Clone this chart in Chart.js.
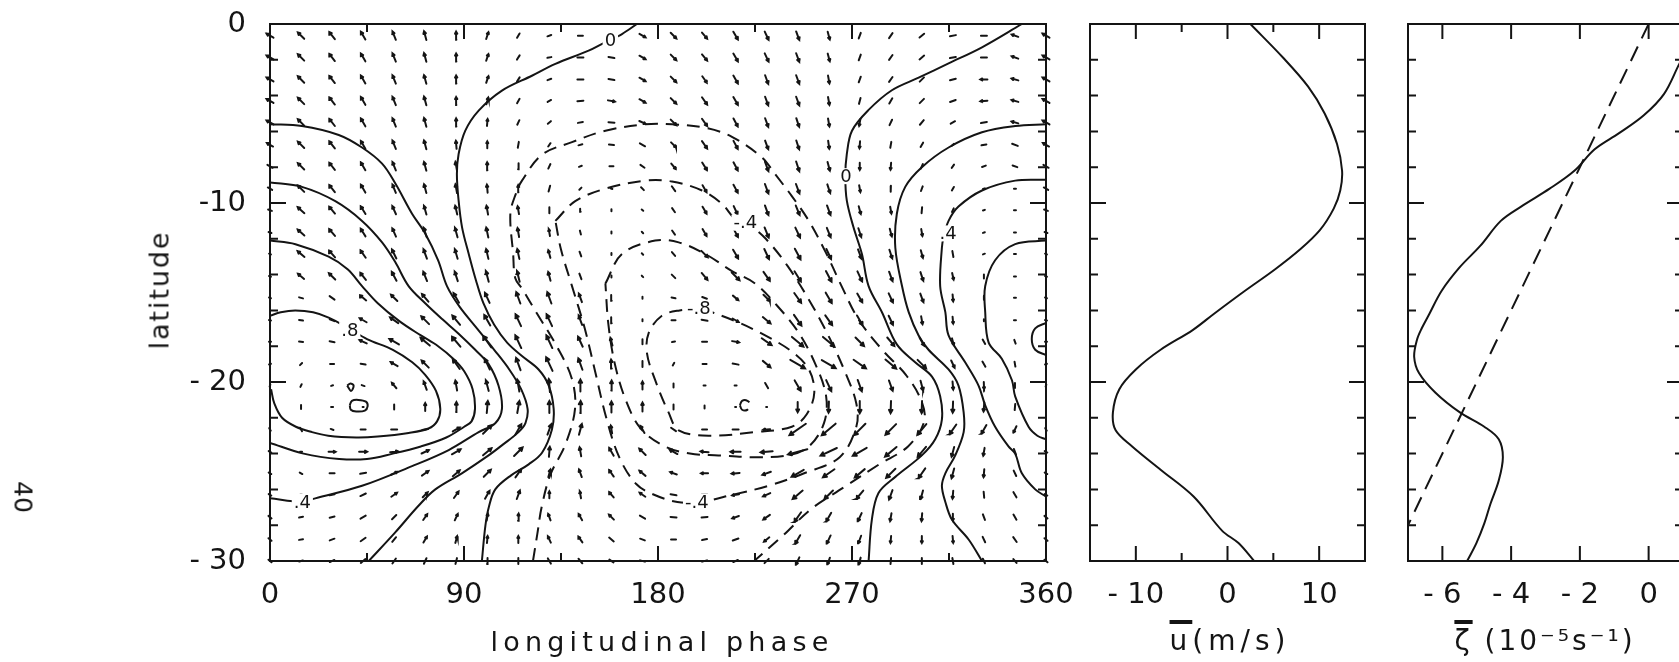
<!DOCTYPE html>
<html>
<head>
<meta charset="utf-8">
<script src="https://cdn.jsdelivr.net/npm/chart.js@4.4.1/dist/chart.umd.min.js"></script>
<style>
  html, body { margin: 0; padding: 0; background: #fff; overflow: hidden; width: 1679px; height: 662px; }
  canvas { position: absolute; top: 0; }
  #cMain { left: 0; }
  #cU { left: 1085px; }
  #cZ { left: 1385px; }
  .lbl { position: absolute; font-family: 'DejaVu Sans', sans-serif; color: #141414; white-space: nowrap;
         line-height: 1; transform: translate(-50%, -50%); }
  .ov { text-decoration: overline; text-decoration-thickness: 4px; }
</style>
</head>
<body>
<canvas id="cMain" width="1085" height="662"></canvas>
<canvas id="cU" width="300" height="662"></canvas>
<canvas id="cZ" width="310" height="662"></canvas>

<div class="lbl" style="left:159px; top:290px; font-size:27px; letter-spacing:1.9px; transform:translate(-50%,-50%) rotate(-90deg);">latitude</div>
<div class="lbl" style="left:662px; top:641px; font-size:27px; letter-spacing:5.2px;">longitudinal phase</div>
<div class="lbl" style="left:1230px; top:641px; font-size:28px; letter-spacing:5px;"><span class="ov">u</span>(m/s)</div>
<div class="lbl" style="left:1545px; top:641px; font-size:28px; letter-spacing:3px;"><span class="ov">ζ</span> (10⁻⁵s⁻¹)</div>
<div class="lbl" style="left:23px; top:497px; font-size:25px; transform:translate(-50%,-50%) rotate(90deg);">40</div>

<script>
// ---------------- tick values and labels ----------------
const phaseTicks = [0, 90, 180, 270, 360];
const latTicks = [0, -10, -20, -30];
const latTickLabels = ['0', '-10', '- 20', '- 30'];
const uTicks = [-10, 0, 10];
const uTickLabels = ['- 10', '0', '10'];
const zetaTicks = [-6, -4, -2, 0];
const zetaTickLabels = ['- 6', '- 4', '- 2', '0'];
const latMinor = [-2, -4, -6, -8, -12, -14, -16, -18, -22, -24, -26, -28];
const latMajor = [-10, -20];

// ---------------- wind vectors on the phase/latitude grid ----------------
const gridLon = [0, 14.4, 28.8, 43.2, 57.6, 72, 86.4, 100.8, 115.2, 129.6, 144, 158.4, 172.8,
                 187.2, 201.6, 216, 230.4, 244.8, 259.2, 273.6, 288, 302.4, 316.8, 331.2, 345.6, 360];
const gridLat = [-0.65, -1.87, -3.1, -4.3, -5.5, -6.75, -7.95, -9.2, -10.4, -11.65, -12.85, -14.1,
                 -15.3, -16.55, -17.75, -19.0, -20.2, -21.4, -22.65, -23.9, -25.1, -26.3, -27.55, -28.8, -30];
// direction (degrees, counter-clockwise from east), one row per latitude, north first
const windDir = [
  [150,135,128,120,112,105,92,72,60,20,0,-15,-30,-45,-50,-60,-65,-70,-75,250,235,220,190,180,160,150],
  [150,135,128,120,112,105,92,72,58,10,0,-10,-30,-45,-50,-60,-65,-70,-75,250,235,220,190,180,160,150],
  [150,135,128,120,112,105,92,72,58,20,0,-10,-30,-45,-55,-60,-70,-70,-80,250,235,225,195,180,165,150],
  [150,135,128,120,112,105,92,75,60,30,5,-10,-30,-45,-55,-60,-70,-70,-80,255,240,225,200,185,165,150],
  [150,135,128,120,112,105,92,85,65,40,10,-5,-25,-45,-55,-62,-70,-72,-80,260,245,230,210,190,165,150],
  [150,135,128,120,112,105,95,90,80,55,15,-5,-30,-45,-55,-62,-70,-72,-82,265,260,240,220,190,160,150],
  [150,135,128,120,112,105,100,92,85,65,20,0,-35,-50,-58,-62,-70,-72,-75,270,265,245,235,200,160,150],
  [150,135,128,120,112,105,100,95,92,75,45,-20,-45,-55,-60,-62,-70,-70,-72,-80,268,250,240,200,180,150],
  [160,138,130,122,114,106,103,100,100,90,100,90,-40,-55,-60,-65,-70,-68,-70,-75,-80,265,245,200,180,160],
  [160,138,130,122,114,108,105,102,100,100,105,90,-45,-55,-60,-62,-68,-65,-68,-72,-75,-80,260,200,180,160],
  [160,140,132,125,116,110,106,103,102,105,110,90,-45,-50,-45,-60,-65,-62,-65,-70,-72,-75,-80,200,180,160],
  [165,140,135,128,118,112,108,105,104,105,110,90,-45,-45,-50,-45,-55,-58,-62,-65,-70,-72,-78,270,180,165],
  [165,165,145,140,135,130,120,115,110,110,110,95,90,-10,-20,-40,-45,-55,-60,-60,-65,-70,-85,-90,180,165],
  [170,170,160,150,145,135,130,120,115,115,110,95,90,0,-10,-30,-40,-55,-55,-60,-65,-80,-85,-90,180,170],
  [180,175,170,155,150,140,130,125,115,115,115,105,90,10,0,-10,-35,-40,-40,-45,-50,-60,-75,-60,-70,180],
  [200,225,180,170,150,135,125,115,110,115,110,95,90,60,0,-10,-40,-30,-30,-35,-40,-45,-65,-60,-80,200],
  [250,245,200,160,130,110,100,105,100,95,90,88,90,90,0,0,-60,-60,-65,-70,-70,-75,-85,-88,-90,250],
  [270,270,0,0,90,90,88,85,80,90,88,90,90,90,90,0,0,-90,-92,-90,-92,-92,-92,-95,-95,270],
  [300,300,340,0,0,10,30,45,60,70,75,100,120,145,180,180,185,215,220,225,225,230,235,240,245,300],
  [330,0,0,0,5,25,30,40,45,85,100,120,135,150,175,180,185,195,205,210,220,230,255,260,290,330],
  [330,330,0,10,25,35,40,45,55,75,110,125,140,160,180,185,200,210,215,220,225,235,255,265,295,330],
  [330,0,10,25,35,45,55,60,70,90,100,130,145,170,180,190,205,220,225,230,250,255,265,275,300,330],
  [320,10,15,30,45,55,65,80,85,110,120,135,150,175,185,200,215,235,240,245,260,265,270,290,300,320],
  [320,10,20,35,50,60,75,85,90,115,125,140,160,180,190,200,220,240,245,250,265,270,275,295,305,320],
  [320,15,25,40,55,65,75,85,90,120,130,145,165,180,195,205,225,245,250,255,265,270,280,295,310,320]
];
// speed, one row per latitude, north first
const windSpeed = [
  [8,9,9,9,9,9,8,7,5,4,5,6,7,8,8,9,9,9,8,6,6,6,6,6,7,8],
  [8,9,9,9,9,9,8,7,5,4,6,6,7,8,8,9,9,9,8,6,6,6,6,6,7,8],
  [8,9,9,9,9,9,8,7,5,4,6,6,7,8,8,9,9,9,8,6,6,6,6,7,7,8],
  [8,9,9,9,9,9,8,7,5,4,6,7,7,8,9,9,9,9,8,6,6,6,6,7,7,8],
  [8,9,9,9,9,9,8,7,5,4,5,6,7,8,9,9,9,9,8,7,6,6,5,6,7,8],
  [7,9,9,9,9,9,8,7,6,4,4,5,6,7,9,9,9,9,8,7,6,5,3,5,6,7],
  [6,9,9,9,9,9,9,8,6,5,3,4,5,7,9,9,10,10,9,7,7,5,4,4,5,6],
  [5,9,9,9,9,9,9,8,7,6,3,2,4,6,8,9,10,10,9,7,6,5,4,2,2,5],
  [4,9,9,9,9,9,9,9,8,6,3,2,2,5,8,9,10,10,10,8,7,6,4,2,2,4],
  [3,9,9,9,9,10,10,10,9,7,4,2,2,5,8,10,11,11,10,9,8,7,4,2,2,3],
  [2,9,9,9,10,10,10,10,10,8,5,2,2,5,9,10,11,12,11,10,9,8,6,2,2,2],
  [2,8,9,9,10,10,10,11,11,9,6,2,2,5,9,11,11,12,12,11,10,9,7,4,2,2],
  [2,4,6,8,9,10,11,11,12,12,9,6,2,4,5,7,9,12,12,10,10,9,7,4,2,2],
  [2,4,5,8,10,11,12,12,13,13,10,6,2,4,6,7,10,13,12,11,10,8,7,2,2,2],
  [2,4,5,8,11,12,13,14,14,14,11,8,5,3,5,7,12,15,15,12,11,9,7,5,4,2],
  [2,3,4,5,8,10,12,12,13,15,12,9,6,3,4,6,10,17,16,15,14,12,8,6,5,2],
  [2,3,2,3,7,9,10,11,12,13,12,10,8,4,2,2,6,12,12,12,11,10,8,7,5,2],
  [2,4,2,1,5,8,10,12,12,12,12,11,9,5,3,1,1,10,11,12,12,12,11,9,6,2],
  [3,4,3,5,6,6,8,12,12,11,11,8,8,6,5,6,7,20,18,16,15,14,12,10,7,3],
  [3,2,7,8,8,8,10,11,12,10,9,9,9,9,8,10,12,20,18,16,15,13,10,8,6,3],
  [3,3,5,6,7,8,9,10,10,8,8,8,8,7,7,8,9,14,14,13,13,12,10,8,6,3],
  [3,2,5,6,7,7,8,9,9,7,7,7,7,6,6,7,8,13,12,11,10,9,8,6,6,3],
  [4,4,5,6,6,7,7,7,7,7,7,7,6,6,6,7,8,12,10,9,8,8,7,6,6,4],
  [4,4,5,6,6,7,7,7,7,7,7,6,5,5,5,6,7,10,9,8,7,7,7,6,6,4],
  [4,4,5,6,6,6,6,6,6,6,6,5,5,5,5,5,6,8,7,7,6,6,6,5,5,4]
];

// ---------------- contours of the wave field: [phase, latitude] ----------------
const zeroWest = [[170.2,0],[163.3,-0.56],[155,-1.05],[147.8,-1.49],[132.4,-2.23],[121.5,-2.89],[107.6,-3.72],
  [96.8,-4.84],[90.6,-5.96],[87.5,-7.26],[86.7,-8.38],[87.5,-9.87],[89.1,-11.36],[92.2,-12.85],[95.5,-14.3],
  [99,-15.6],[104,-16.8],[110,-17.8],[116.9,-18.55],[124.6,-19.3],[129.3,-20.2],[131.6,-21.5],[130.8,-22.65],
  [126.2,-23.95],[120,-24.6],[112,-25.2],[104.5,-26.0],[101.5,-27],[99.9,-28.05],[98.3,-30]];
const zeroEast = [[348.8,0],[330.3,-1.3],[314.8,-2.2],[300.9,-3.0],[288.5,-3.7],[277.7,-4.8],[270,-5.96],
  [267.6,-7.26],[266.9,-8.5],[267.6,-9.87],[270.7,-11.36],[274.6,-12.85],[277.7,-14.64],[283.9,-16.1],
  [290.8,-17.9],[299.3,-18.9],[307.1,-19.7],[310.9,-20.8],[311.7,-22.1],[308.6,-23.2],[302.4,-24.1],
  [290.1,-25.3],[282.3,-26.2],[279.2,-27.7],[277.7,-30]];
const pos02West = [[0,-5.6],[14.8,-5.7],[31.9,-6.2],[42.7,-6.9],[52,-7.8],[58.1,-8.9],[65.9,-10.6],[72,-11.7],
  [78,-13.2],[82.1,-14.64],[88,-15.8],[96,-17],[104,-18.2],[111,-19.3],[116.5,-20.4],[119.5,-21.5],[118.5,-22.3],
  [115.3,-22.8],[108,-23.5],[101.4,-24.1],[89,-25.1],[76.7,-26.0],[69,-26.9],[58.1,-28.4],[45.8,-30]];
const pos02East = [[360,-5.6],[345.7,-5.7],[330.3,-6.05],[314.8,-6.9],[302.4,-8.0],[294.7,-9.1],[290.8,-10.6],
  [290.1,-12.5],[293.2,-14.64],[296.3,-16.1],[300.9,-17.4],[305.5,-18.2],[314.8,-19.3],[319.4,-20.2],
  [321.8,-21.7],[321.8,-22.8],[317.9,-24.1],[313.3,-25.1],[311.7,-25.8],[313.3,-26.7],[316.4,-27.7],
  [324.1,-28.8],[330.3,-30]];
const pos04West = [[0,-8.85],[14.8,-9.1],[30.3,-9.9],[42.7,-11.0],[52,-12.2],[58.1,-13.3],[64.3,-14.64],
  [72,-15.6],[80,-16.5],[87.5,-17.3],[95.2,-18.2],[101.4,-19.0],[106,-20.2],[107.6,-21.5],[104.5,-22.3],
  [96.8,-22.8],[82.9,-23.8],[65.9,-24.7],[42.7,-25.8],[21,-26.5],[14.8,-26.7],[0,-26.5]];
const pos04East = [[360,-8.7],[345.7,-8.75],[330.3,-9.3],[319.4,-10.2],[314.8,-11.0],[312.5,-11.9],[311.7,-12.5],
  [310.9,-14.64],[313.3,-16.1],[314.8,-17.4],[322.5,-18.9],[328.7,-20.2],[331.8,-21.3],[336.4,-22.5],
  [342.6,-23.6],[345.7,-24],[348.8,-25.1],[355,-26],[360,-26.4]];
const pos06West = [[0,-12.1],[11.8,-12.3],[27.2,-13.0],[36,-13.7],[42.7,-14.64],[50,-15.6],[60,-16.6],[70,-17.4],
  [78,-18.0],[85,-18.7],[90.1,-19.4],[94,-20.4],[95.1,-21.5],[93.5,-22.2],[90.1,-22.5],[81.8,-23.1],[70,-23.6],
  [57,-24.0],[45,-24.3],[32.1,-24.3],[15.6,-24.0],[0,-23.4]];
const pos06East = [[360,-12.1],[345.7,-12.3],[336.4,-13.2],[331.8,-14.64],[331.8,-16.1],[333.4,-17.8],
  [339.5,-18.7],[344.2,-19.9],[345.7,-20.8],[351.9,-22.5],[356,-23.0],[360,-23.2]];
const pos08West = [[0,-16.3],[5,-16.1],[11.7,-16.0],[20,-16.1],[27.2,-16.4],[36.5,-17.0],[45,-17.6],[57,-18.2],
  [66,-18.9],[72,-19.6],[77,-20.5],[79,-21.5],[77.5,-22.2],[73.5,-22.6],[64.3,-22.85],[50,-23.05],[40,-23.1],
  [27,-23.0],[19.5,-22.8],[12,-22.5],[5.6,-22.0],[2,-21.2],[0.5,-20.4]];
const pos08East = [[360,-16.7],[355,-17.0],[353.4,-17.6],[355,-18.2],[360,-18.5]];
const pos10a = [[37,-21.3],[38,-21.05],[41,-21.0],[44.5,-21.1],[45.3,-21.35],[44,-21.6],[40,-21.65],[37.5,-21.55],[37,-21.3]];
const pos10b = [[35.8,-20.2],[37.3,-20.08],[38.8,-20.2],[37.6,-20.5],[35.8,-20.2]];
const neg02 = [[122,-30],[124,-28.5],[126,-27],[130,-25.2],[137,-23.5],[141.5,-21.5],[140,-19.8],[133,-18],
  [124,-16.2],[117,-14.8],[113.8,-14.2],[112.8,-12.85],[111.5,-10.6],[114,-9.5],[116.9,-8.75],[126.2,-7.3],
  [140.1,-6.6],[155.6,-5.96],[174.1,-5.6],[186.5,-5.6],[202,-5.8],[214.3,-6.3],[228.2,-7.45],[234.4,-8.4],
  [242,-9.6],[250,-11],[258,-12.8],[265,-14.6],[273,-16.5],[284,-18.2],[295,-19.6],[302,-21],[303.5,-22.2],
  [296,-23.6],[282.6,-24.6],[266,-25.9],[251,-27.1],[237.8,-28.6],[224.6,-30]];
const neg04 = [[132.4,-11],[141.6,-9.9],[155.6,-9.2],[174.1,-8.75],[186.5,-8.8],[200.4,-9.3],[209.7,-10.05],
  [215.9,-10.9],[222,-11.2],[230,-12],[240,-13.5],[250,-15.4],[259,-17.4],[267,-19.5],[272,-21.2],[272,-22.5],
  [264.3,-24.2],[247.8,-25.1],[231.2,-25.8],[214.6,-26.3],[199.7,-26.7],[189,-26.7],[178.2,-26.3],[169.9,-25.7],
  [162,-24.2],[156,-22],[151,-19.5],[146,-17],[140,-14.6],[135,-12.6],[132.4,-11]];
const neg06 = [[155.6,-14.5],[163.3,-12.85],[178.7,-12.1],[189.6,-12.2],[201.9,-12.85],[214.3,-13.8],[225.1,-14.5],
  [235,-15.7],[245,-17.2],[253,-19],[258,-20.8],[257,-22.3],[250,-23.6],[240,-24.1],[224.6,-24.2],[208,-24.1],
  [194.8,-24],[183.2,-23.6],[172,-22.6],[165,-21],[160,-19],[157,-16.8],[155.6,-14.5]];
const neg08 = [[200.4,-15.9],[215.9,-16.6],[228.2,-17.3],[242.1,-18.3],[250,-19.3],[252.5,-20.6],[249,-21.8],
  [242.1,-22.5],[225.1,-22.8],[203.5,-23.0],[189.6,-22.7],[184.9,-21.7],[178.7,-19.9],[174.9,-18.4],[175.7,-17.25],
  [181.8,-16.3],[190,-16.0],[200.4,-15.9]];
const neg10 = [[218,-21.3],[219,-21.05],[221.5,-21.05],[223,-21.3],[221.5,-21.55],[219,-21.55],[218,-21.3]];

const solidContours = [zeroWest, zeroEast, pos02West, pos02East, pos04West, pos04East, pos06West, pos06East,
                       pos08West, pos08East, pos10a, pos10b];
const dashedContours = [neg02, neg04, neg06, neg08, neg10];

const contourLabels = [
  { text: '0',   lon: 157.9, lat: -0.93 },
  { text: '0',   lon: 267.2, lat: -8.5 },
  { text: '.4',  lon: 314.6, lat: -11.7 },
  { text: '-.4', lon: 220.5, lat: -11.1 },
  { text: '.8',  lon: 37.0,  lat: -17.1 },
  { text: '-.8', lon: 199.0, lat: -15.9 },
  { text: '.4',  lon: 15.0,  lat: -26.7 },
  { text: '-.4', lon: 198.0, lat: -26.7 }
];

// ---------------- zonal-mean profiles ----------------
const uLat = [0,-1.9,-3.5,-5.0,-6.7,-8.2,-9.3,-10.3,-11.5,-12.6,-13.7,-15.0,-16.2,-17.1,-18.2,-19.3,-20.4,
              -21.7,-22.7,-23.6,-24.9,-26.4,-28.3,-29.0,-30];
const uMean = [2.5,6.1,8.8,10.6,11.95,12.5,12.3,11.6,10.1,7.9,5.2,1.65,-1.5,-3.8,-7.3,-10.0,-11.8,
               -12.5,-12.2,-10.4,-7.3,-3.7,-0.6,1.2,2.9];
const zetaLat = [-1.0,-2.2,-3.9,-5.1,-6.1,-7.0,-8.2,-9.2,-10.2,-11.0,-12.4,-13.6,-14.9,-16.2,-17.0,-17.65,-18.6,
                 -19.5,-20.6,-21.7,-22.5,-23.2,-24.2,-25.5,-26.8,-27.9,-29.0,-30];
const zetaMean = [1.25,0.9,0.45,-0.14,-0.86,-1.57,-2.16,-2.88,-3.71,-4.3,-4.9,-5.5,-6.02,-6.38,-6.6,-6.74,-6.82,
                  -6.68,-6.2,-5.49,-4.78,-4.36,-4.24,-4.36,-4.6,-4.78,-5.01,-5.28];
const zetaRefLat = [0, -28];
const zetaRef = [0, -7];

// ---------------- drawing ----------------
const INK = '#141414';
const FONT = "'DejaVu Sans', sans-serif";
Chart.defaults.font.family = FONT;
Chart.defaults.color = INK;

const PLOT_W = 776, PLOT_H = 537;           // main panel plot area in pixels
const PX_PER_LON = PLOT_W / 360, PX_PER_LAT = PLOT_H / 30;

function arrowPath() {
  const pts = [];
  gridLat.forEach((lat, i) => {
    gridLon.forEach((lon, j) => {
      const s = windSpeed[i][j];
      const a = windDir[i][j] * Math.PI / 180;
      const hx = Math.cos(a) * s / 2, hy = Math.sin(a) * s / 2;
      const tip = { x: lon + hx / PX_PER_LON, y: lat + hy / PX_PER_LAT };
      pts.push({ x: lon - hx / PX_PER_LON, y: lat - hy / PX_PER_LAT }, { x: tip.x, y: tip.y }, { x: lon, y: null });
      if (s >= 7) {
        const b = Math.min(4, 0.3 * s);
        const l = a + Math.PI - 0.5, r = a + Math.PI + 0.5;
        pts.push({ x: tip.x + Math.cos(l) * b / PX_PER_LON, y: tip.y + Math.sin(l) * b / PX_PER_LAT },
                 { x: tip.x, y: tip.y },
                 { x: tip.x + Math.cos(r) * b / PX_PER_LON, y: tip.y + Math.sin(r) * b / PX_PER_LAT },
                 { x: lon, y: null });
      }
    });
  });
  return pts;
}

function lineSet(points, dashed, width) {
  return {
    data: points.map(p => ({ x: p[0], y: p[1] })),
    showLine: true, pointRadius: 0, borderColor: INK, borderWidth: width || 2,
    borderDash: dashed ? [13, 8] : [], tension: 0.35, fill: false
  };
}

function profileSet(xs, ys, dashed) {
  return {
    data: xs.map((v, k) => ({ x: v, y: ys[k] })),
    showLine: true, pointRadius: 0, borderColor: INK, borderWidth: 2,
    borderDash: dashed ? [16, 9] : [], tension: dashed ? 0 : 0.35, fill: false
  };
}

// frame with inward tick marks on all four sides
const frameTicks = {
  id: 'frameTicks',
  afterDatasetsDraw(chart, args, opts) {
    const { ctx, chartArea: a, scales } = chart;
    const xs = scales.x, ys = scales.y;
    ctx.save();
    ctx.strokeStyle = INK;
    ctx.lineWidth = 2;
    ctx.strokeRect(a.left, a.top, a.right - a.left, a.bottom - a.top);
    ctx.beginPath();
    const xt = (v, len) => {
      const p = xs.getPixelForValue(v);
      ctx.moveTo(p, a.bottom); ctx.lineTo(p, a.bottom - len);
      ctx.moveTo(p, a.top); ctx.lineTo(p, a.top + len);
    };
    const yt = (v, len) => {
      const p = ys.getPixelForValue(v);
      ctx.moveTo(a.left, p); ctx.lineTo(a.left + len, p);
      ctx.moveTo(a.right, p); ctx.lineTo(a.right - len, p);
    };
    opts.xMajor.forEach(v => xt(v, 15));
    opts.xMinor.forEach(v => xt(v, 8));
    latMajor.forEach(v => yt(v, 16));
    latMinor.forEach(v => yt(v, 8));
    ctx.stroke();
    ctx.restore();
  }
};

// contour value labels, set in small gaps of the lines
const contourText = {
  id: 'contourText',
  afterDatasetsDraw(chart) {
    const { ctx, scales } = chart;
    ctx.save();
    ctx.font = '18px ' + FONT;
    ctx.textAlign = 'center';
    ctx.textBaseline = 'middle';
    contourLabels.forEach(c => {
      const x = scales.x.getPixelForValue(c.lon), y = scales.y.getPixelForValue(c.lat);
      const w = ctx.measureText(c.text).width + 4;
      ctx.fillStyle = '#fff';
      ctx.fillRect(x - w / 2, y - 8, w, 16);
      ctx.fillStyle = INK;
      ctx.fillText(c.text, x, y + 1);
    });
    ctx.restore();
  }
};

function xAxis(min, max, ticks, labels) {
  return {
    type: 'linear', min, max,
    grid: { display: false, drawTicks: false }, border: { display: false },
    afterBuildTicks: ax => { ax.ticks = ticks.map(v => ({ value: v })); },
    afterFit: ax => { ax.height = 101; ax.paddingLeft = 0; ax.paddingRight = 0; },
    ticks: { padding: 17, color: INK, font: { size: 29 }, maxRotation: 0, autoSkip: false,
             callback: v => labels[ticks.indexOf(v)] }
  };
}

const base = {
  responsive: false, animation: false, events: [],
  plugins: { legend: { display: false }, tooltip: { enabled: false } }
};

// main panel: vectors and contours against longitudinal phase
const contourSets = [
  ...solidContours.map(c => lineSet(c, false)),
  ...dashedContours.map(c => lineSet(c, true))
];
new Chart(document.getElementById('cMain'), {
  type: 'scatter',
  data: {
    datasets: [
      { data: arrowPath(), showLine: true, pointRadius: 0, borderColor: INK, borderWidth: 2,
        borderCapStyle: 'round', tension: 0, spanGaps: false, clip: 8 },
      ...contourSets
    ]
  },
  options: {
    ...base,
    layout: { padding: { left: 0, right: 39, top: 24, bottom: 0 } },
    plugins: { ...base.plugins, frameTicks: { xMajor: [90, 180, 270], xMinor: [45, 135, 225, 315] } },
    scales: {
      x: xAxis(0, 360, phaseTicks, phaseTicks.map(String)),
      y: {
        type: 'linear', min: -30, max: 0,
        grid: { display: false, drawTicks: false }, border: { display: false },
        afterBuildTicks: ax => { ax.ticks = latTicks.map(v => ({ value: v })); },
        afterFit: ax => { ax.width = 270; ax.paddingTop = 0; ax.paddingBottom = 0; },
        ticks: { padding: 24, color: INK, font: { size: 29 }, callback: v => latTickLabels[latTicks.indexOf(v)] }
      }
    }
  },
  plugins: [frameTicks, contourText]
});

const yHidden = { type: 'linear', min: -30, max: 0, display: false };

// zonal-mean wind
new Chart(document.getElementById('cU'), {
  type: 'scatter',
  data: { datasets: [profileSet(uMean, uLat, false)] },
  options: {
    ...base,
    layout: { padding: { left: 5, right: 20, top: 24, bottom: 0 } },
    plugins: { ...base.plugins, frameTicks: { xMajor: [-10, 0, 10], xMinor: [-5, 5] } },
    scales: { x: xAxis(-15, 15, uTicks, uTickLabels), y: yHidden }
  },
  plugins: [frameTicks]
});

// zonal-mean vorticity with the reference gradient (dashed)
new Chart(document.getElementById('cZ'), {
  type: 'scatter',
  data: { datasets: [profileSet(zetaMean, zetaLat, false), profileSet(zetaRef, zetaRefLat, true)] },
  options: {
    ...base,
    layout: { padding: { left: 23, right: 12, top: 24, bottom: 0 } },
    plugins: { ...base.plugins, frameTicks: { xMajor: [-6, -4, -2, 0], xMinor: [] } },
    scales: { x: xAxis(-7, 1, zetaTicks, zetaTickLabels), y: yHidden }
  },
  plugins: [frameTicks]
});
</script>
</body>
</html>
